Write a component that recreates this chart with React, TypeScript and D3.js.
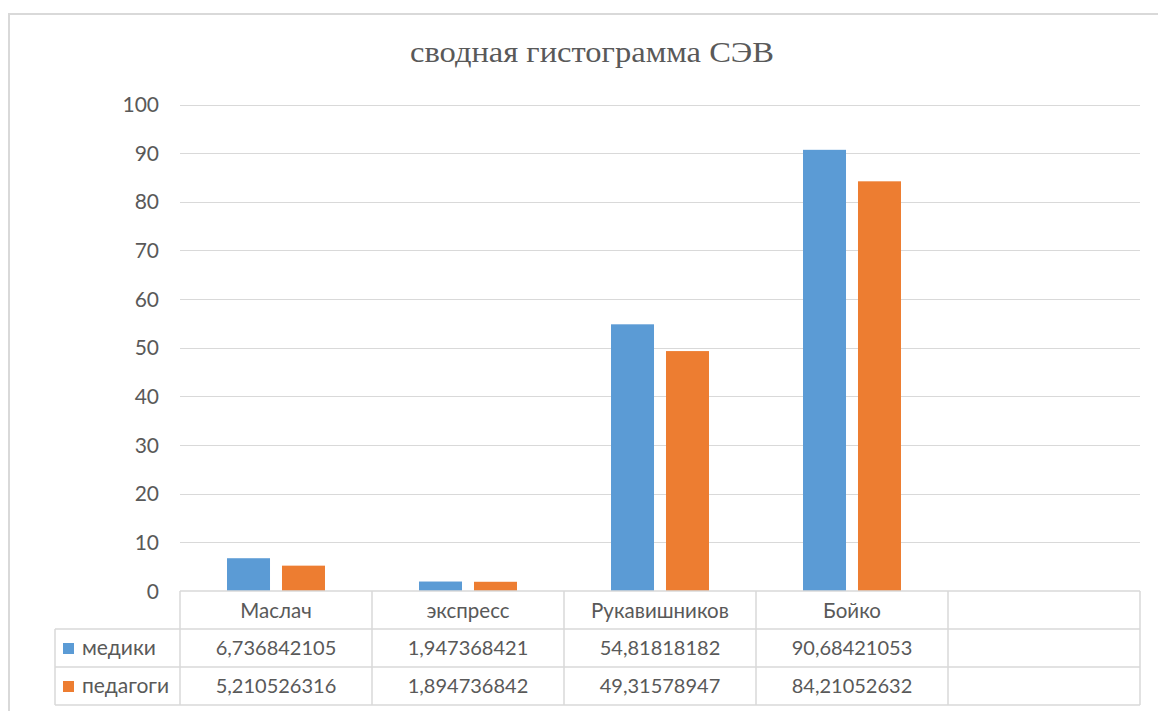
import React from "react";
import * as d3 from "d3";

const title = "сводная гистограмма СЭВ";
const categories = ["Маслач", "экспресс", "Рукавишников", "Бойко", ""];
const seriesNames = ["медики", "педагоги"];
const medics = [6.736842105, 1.947368421, 54.81818182, 90.68421053];
const teachers = [5.210526316, 1.894736842, 49.31578947, 84.21052632];
const yTicks = [0, 10, 20, 30, 40, 50, 60, 70, 80, 90, 100];
const colors = ["#5B9BD5", "#ED7D31"];

const W = 1158;
const H = 711;
const plotLeft = 180;
const plotRight = 1140;
const yZero = 591;
const yTop = 104.5;
const rowH = 38;
const legendLeft = 55;
const textColor = "#595959";
const gridColor = "#d9d9d9";
const font = "Lato, 'Open Sans', sans-serif";

export default function App() {
  const series = [medics, teachers];
  const x = d3.scaleBand<string>().domain(categories).range([plotLeft, plotRight]).padding(0);
  const xs = d3
    .scaleBand<string>()
    .domain(seriesNames)
    .range([0, x.bandwidth()])
    .paddingInner(0.218)
    .paddingOuter(0.855);
  const y = d3.scaleLinear().domain([0, 100]).range([yZero, yTop]);
  const fmt = (v: number) => v.toPrecision(10).replace(".", ",");

  const tableBottom = yZero + rowH * 3;
  const colEdges = [...categories.map((c) => x(c)!), plotRight];

  return (
    <svg
      width={W}
      height={H}
      style={{ position: "absolute", left: 0, top: 0, background: "#fff" }}
    >
      <rect x={0} y={0} width={W} height={H} fill="#fff" />
      {/* chart frame */}
      <rect x={9} y={14} width={W + 20} height={H + 20} fill="none" stroke="#d9d9d9" strokeWidth={2} />
      <text
        x={592}
        y={62}
        textAnchor="middle"
        fontFamily="'Liberation Serif', 'Times New Roman', serif"
        fontSize={30}
        textLength={364}
        lengthAdjust="spacingAndGlyphs"
        fill={textColor}
      >
        {title}
      </text>
      {/* gridlines */}
      {yTicks.filter((t) => t > 0).map((t) => (
        <line key={t} x1={plotLeft} x2={plotRight} y1={Math.round(y(t)) + 0.5} y2={Math.round(y(t)) + 0.5} stroke={gridColor} strokeWidth={1} />
      ))}
      {/* y labels */}
      {yTicks.map((t) => (
        <text key={t} x={159} y={y(t)} dy="0.36em" textAnchor="end" fontFamily={font} fontSize={21} fill={textColor}>
          {t}
        </text>
      ))}
      {/* bars */}
      {series.map((vals, si) =>
        vals.map((v, ci) => (
          <rect
            key={`${si}-${ci}`}
            x={x(categories[ci])! + xs(seriesNames[si])!}
            y={y(v)}
            width={xs.bandwidth()}
            height={yZero - y(v)}
            fill={colors[si]}
          />
        ))
      )}
      {/* data table lines */}
      <line x1={plotLeft} x2={plotRight} y1={yZero} y2={yZero} stroke={gridColor} strokeWidth={1.5} />
      {[1, 2, 3].map((r) => (
        <line key={r} x1={legendLeft} x2={plotRight} y1={yZero + rowH * r} y2={yZero + rowH * r} stroke={gridColor} strokeWidth={1.5} />
      ))}
      <line x1={legendLeft} x2={legendLeft} y1={yZero + rowH} y2={tableBottom} stroke={gridColor} strokeWidth={1.5} />
      {colEdges.map((cx, i) => (
        <line key={i} x1={cx} x2={cx} y1={yZero} y2={tableBottom} stroke={gridColor} strokeWidth={1.5} />
      ))}
      {/* header labels */}
      {categories.map((c) => (
        <text key={c} x={x(c)! + x.bandwidth() / 2} y={618} textAnchor="middle" fontFamily={font} fontSize={20.5} fill={textColor}>
          {c}
        </text>
      ))}
      {/* series rows */}
      {series.map((vals, si) => (
        <g key={si}>
          <rect x={63} y={yZero + rowH * (si + 1) + 14} width={11} height={11} fill={colors[si]} />
          <text x={82} y={655 + rowH * si} fontFamily={font} fontSize={21} fill={textColor}>
            {seriesNames[si]}
          </text>
          {vals.map((v, ci) => (
            <text
              key={ci}
              x={x(categories[ci])! + x.bandwidth() / 2}
              y={655 + rowH * si}
              textAnchor="middle"
              fontFamily={font}
              fontSize={20}
              fill={textColor}
            >
              {fmt(v)}
            </text>
          ))}
        </g>
      ))}
    </svg>
  );
}
